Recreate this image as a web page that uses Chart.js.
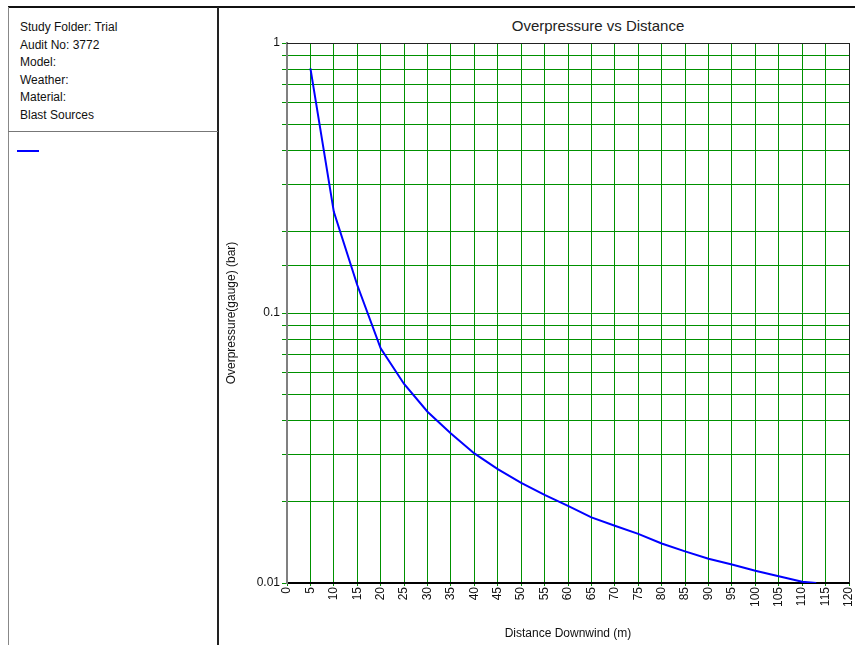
<!DOCTYPE html>
<html>
<head>
<meta charset="utf-8">
<script src="https://cdn.jsdelivr.net/npm/chart.js@4.4.0/dist/chart.umd.min.js"></script>
<style>
  html, body { margin: 0; padding: 0; background: #fff; }
  body { width: 855px; height: 645px; position: relative; overflow: hidden; font-family: "Liberation Sans", Arial, sans-serif; color: #111; }
  #chart { position: absolute; left: 0; top: 0; }
  .frame-top { position: absolute; left: 8px; top: 6px; width: 847px; height: 2px; background: #111; }
  .frame-left { position: absolute; left: 8px; top: 7px; width: 1px; height: 638px; background: #888; }
  .frame-sep { position: absolute; left: 217px; top: 7px; width: 2px; height: 638px; background: #222; }
  .frame-mid { position: absolute; left: 8px; top: 131px; width: 210px; height: 1px; background: #777; }
  .info { position: absolute; left: 20px; top: 19px; font-size: 12px; line-height: 17.6px; }
  .legend-line { position: absolute; left: 17px; top: 150px; width: 22px; height: 2px; background: #0000ff; }
  .title { position: absolute; left: 440px; width: 316px; top: 17px; text-align: center; font-size: 15px; color: #222; }
</style>
</head>
<body>
<div class="frame-top"></div>
<div class="frame-left"></div>
<div class="frame-sep"></div>
<div class="frame-mid"></div>
<div class="info">
  Study Folder: Trial<br>
  Audit No: 3772<br>
  Model:<br>
  Weather:<br>
  Material:<br>
  Blast Sources
</div>
<div class="legend-line"></div>
<div class="title">Overpressure vs Distance</div>
<canvas id="chart" width="855" height="645"></canvas>
<script>
// distance downwind (m)
var distance = [5, 10, 15, 20, 25, 30, 35, 40, 45, 50, 55, 60, 65, 70, 75, 80, 85, 90, 95, 100, 105, 110, 113];
// overpressure (gauge), bar
var overpressure = [0.806, 0.237, 0.127, 0.074, 0.0546, 0.0431, 0.0358, 0.0302, 0.0264, 0.0235, 0.0212, 0.0193,
                    0.0175, 0.0163, 0.0152, 0.0140, 0.0131, 0.0123, 0.0117, 0.0111, 0.0106, 0.0101, 0.0100];
var yLabels = [1, 0.1, 0.01];

var points = [];
for (var i = 0; i < distance.length; i++) {
    points.push({x: distance[i], y: overpressure[i]});
}

var green = 'rgb(0,145,0)';
var font = {family: '"Liberation Sans", Arial, sans-serif', size: 12};

// top and right edge of the plot box
var boxBorder = {
    id: 'boxBorder',
    afterDraw: function(chart) {
        var a = chart.chartArea, ctx = chart.ctx;
        ctx.save();
        ctx.strokeStyle = '#222';
        ctx.lineWidth = 1;
        ctx.beginPath();
        ctx.moveTo(a.left, Math.round(a.top) + 0.5);
        ctx.lineTo(a.right, Math.round(a.top) + 0.5);
        ctx.moveTo(Math.round(a.right) + 0.5, a.top);
        ctx.lineTo(Math.round(a.right) + 0.5, a.bottom);
        ctx.stroke();
        ctx.restore();
    }
};

var ctx = document.getElementById('chart').getContext('2d');
var chart = new Chart(ctx, {
    type: 'line',
    data: {
        datasets: [{
            data: points,
            borderColor: '#0000ff',
            borderWidth: 2,
            pointRadius: 0,
            tension: 0,
            fill: false
        }]
    },
    options: {
        responsive: false,
        animation: false,
        layout: {padding: {left: 220, top: 43, right: 6, bottom: 0}},
        plugins: {legend: {display: false}, title: {display: false}, tooltip: {enabled: false}},
        scales: {
            x: {
                type: 'linear',
                min: 0,
                max: 120,
                afterFit: function(s) { s.height = 62; s.paddingRight = 0; s.paddingLeft = 0; },
                ticks: {stepSize: 5, minRotation: 90, maxRotation: 90, autoSkip: false, padding: 1, color: '#111', font: font},
                grid: {color: green, lineWidth: 1, tickLength: 3},
                border: {color: '#000', width: 2},
                title: {display: true, text: 'Distance Downwind (m)', color: '#111', font: font, padding: {top: 2, bottom: 4}}
            },
            y: {
                type: 'logarithmic',
                min: 0.01,
                max: 1,
                afterFit: function(s) { s.width = 67; },
                ticks: {
                    autoSkip: false,
                    padding: 2,
                    color: '#111',
                    font: font,
                    callback: function(v) {
                        for (var k = 0; k < yLabels.length; k++) {
                            if (Math.abs(v - yLabels[k]) < 1e-9) return String(yLabels[k]);
                        }
                        return '';
                    }
                },
                grid: {color: function() { return green; }, lineWidth: 1, tickLength: 5},
                border: {color: '#808080', width: 2},
                title: {display: true, text: 'Overpressure(gauge) (bar)', color: '#111', font: font, padding: {top: 4, bottom: 4}}
            }
        }
    },
    plugins: [boxBorder]
});
</script>
</body>
</html>
